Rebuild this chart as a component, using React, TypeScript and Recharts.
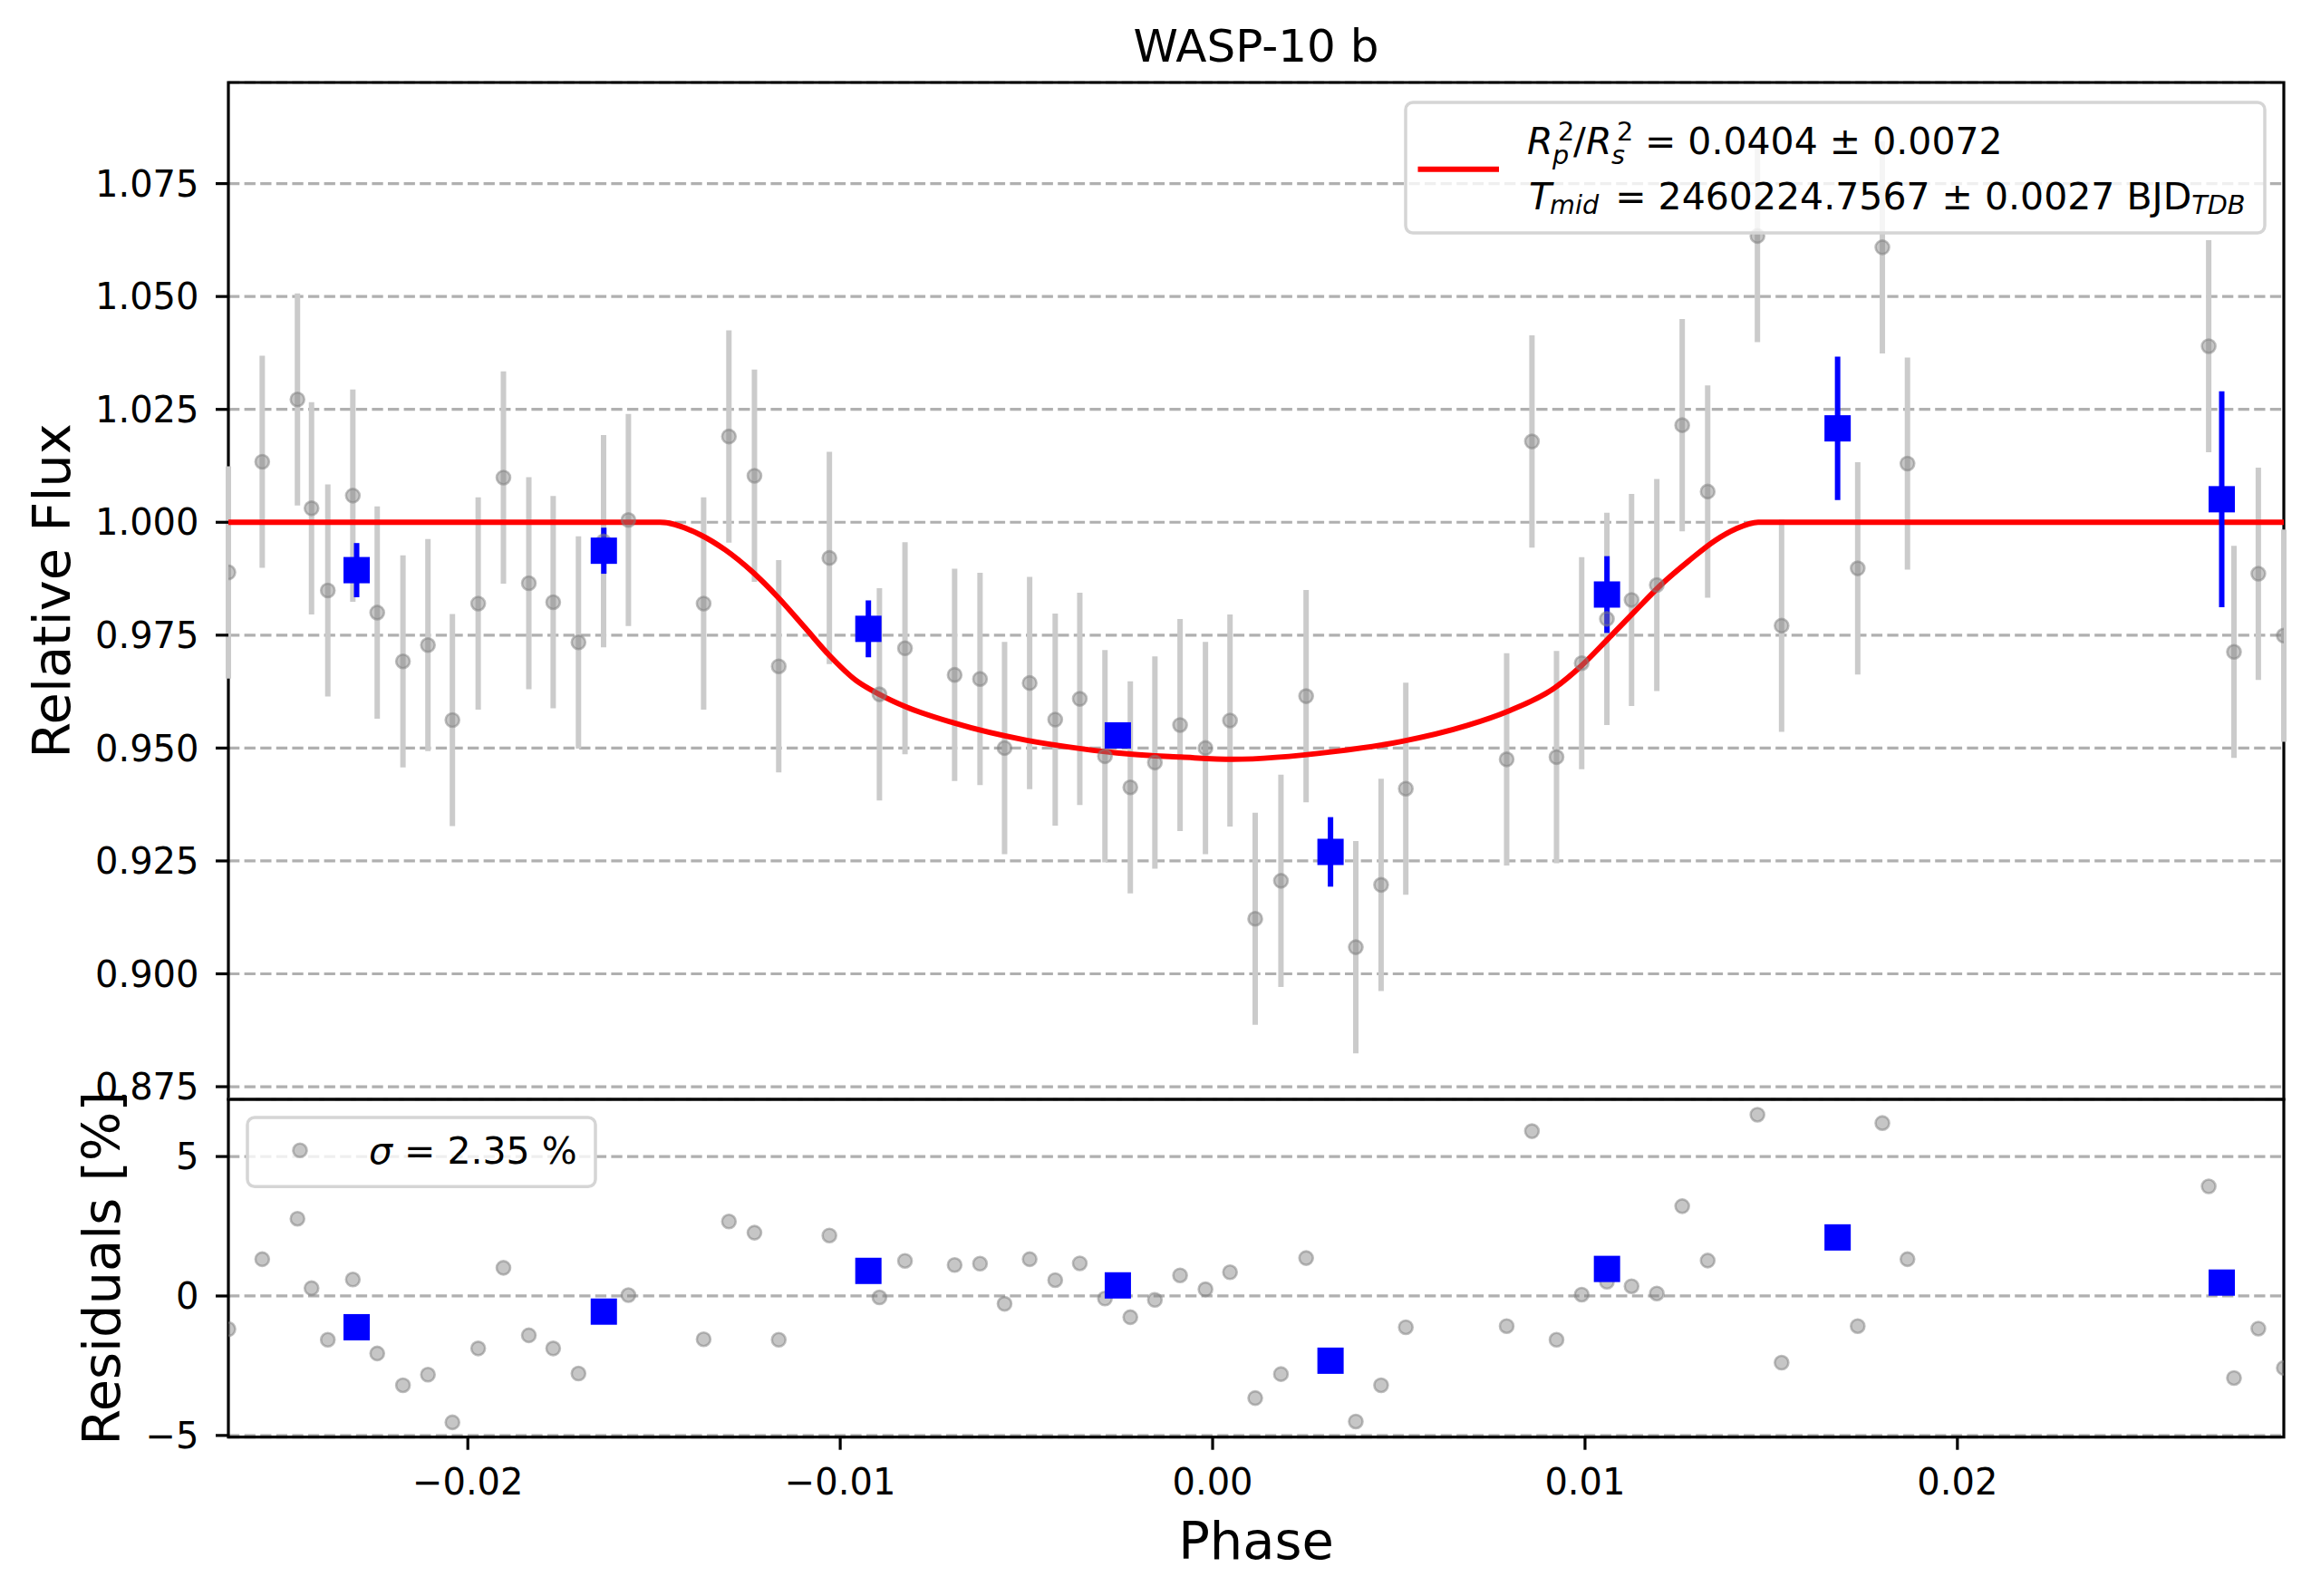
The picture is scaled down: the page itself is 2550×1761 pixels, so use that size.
import React from 'react';
import {
  ComposedChart,
  Scatter,
  Line,
  XAxis,
  YAxis,
  CartesianGrid,
  ErrorBar,
  ReferenceArea,
  Legend,
} from 'recharts';

const FONT = '"DejaVu Sans", "Liberation Sans", sans-serif';

// ---------- axis ranges & ticks ----------
const X_MIN = -0.02643;
const X_MAX = 0.028765;
const FLUX_MIN = 0.8722;
const FLUX_MAX = 1.0974;
const RES_MIN = -5.06;
const RES_MAX = 7.05;

const PHASE_TICKS = [-0.02, -0.01, 0, 0.01, 0.02];
const FLUX_TICKS = [0.875, 0.9, 0.925, 0.95, 0.975, 1.0, 1.025, 1.05, 1.075];
const RES_TICKS = [-5, 0, 5];

// ---------- unbinned data ----------
const PHASE = [
  -0.02643, -0.025521, -0.024575, -0.024197, -0.02376, -0.023088, -0.022433, -0.021742,
  -0.021071, -0.020414, -0.019722, -0.019044, -0.018362, -0.017708, -0.017029, -0.016355,
  -0.015688, -0.013668, -0.012989, -0.012303, -0.011651, -0.010291, -0.008947, -0.008261,
  -0.006928, -0.006246, -0.005587, -0.004913, -0.004227, -0.003567, -0.002891, -0.00221,
  -0.00155, -0.000874, -0.000192, 0.000467, 0.001144, 0.001835, 0.002511, 0.003845,
  0.004524, 0.005188, 0.007896, 0.008575, 0.009235, 0.009911, 0.010588, 0.01125,
  0.011928, 0.01261, 0.013294, 0.01463, 0.015279, 0.017323, 0.017985, 0.018659,
  0.026748, 0.027427, 0.028081, 0.028765,
];
const FLUX = [
  0.9889, 1.0134, 1.0272, 1.0031, 0.9849, 1.0059, 0.98, 0.9692,
  0.9728, 0.9562, 0.982, 1.0099, 0.9865, 0.9823, 0.9734, 0.9958,
  1.0005, 0.982, 1.019, 1.0103, 0.9681, 0.9921, 0.9619, 0.9721,
  0.9662, 0.9653, 0.95, 0.9644, 0.9563, 0.9609, 0.9482, 0.9413,
  0.9468, 0.9551, 0.95, 0.9561, 0.9122, 0.9206, 0.9615, 0.9059,
  0.9197, 0.941, 0.9475, 1.0179, 0.948, 0.9688, 0.9786, 0.9828,
  0.9861, 1.0215, 1.0068, 1.0634, 0.9771, 0.9898, 1.0609, 1.013,
  1.039, 0.9713, 0.9886, 0.9749,
];
const FLUX_ERR = [
  0.0235, 0.0235, 0.0235, 0.0235, 0.0235, 0.0235, 0.0235, 0.0235,
  0.0235, 0.0235, 0.0235, 0.0235, 0.0235, 0.0235, 0.0235, 0.0235,
  0.0235, 0.0235, 0.0235, 0.0235, 0.0235, 0.0235, 0.0235, 0.0235,
  0.0235, 0.0235, 0.0235, 0.0235, 0.0235, 0.0235, 0.0235, 0.0235,
  0.0235, 0.0235, 0.0235, 0.0235, 0.0235, 0.0235, 0.0235, 0.0235,
  0.0235, 0.0235, 0.0235, 0.0235, 0.0235, 0.0235, 0.0235, 0.0235,
  0.0235, 0.0235, 0.0235, 0.0235, 0.0235, 0.0235, 0.0235, 0.0235,
  0.0235, 0.0235, 0.0235, 0.0235,
];
const RESID = [
  -1.19, 1.32, 2.77, 0.28, -1.57, 0.59, -2.06, -3.2,
  -2.82, -4.53, -1.88, 1.01, -1.41, -1.88, -2.78, -0.42,
  0.03, -1.55, 2.67, 2.27, -1.57, 2.17, -0.05, 1.26,
  1.11, 1.16, -0.28, 1.32, 0.57, 1.17, -0.09, -0.76,
  -0.14, 0.74, 0.24, 0.85, -3.66, -2.8, 1.36, -4.5,
  -3.2, -1.12, -1.08, 5.91, -1.57, 0.05, 0.51, 0.35,
  0.09, 3.22, 1.27, 6.5, -2.39, -1.08, 6.2, 1.32,
  3.93, -2.94, -1.17, -2.58,
];

// ---------- binned data ----------
const BIN_PHASE = [-0.022986, -0.016348, -0.009244, -0.002545, 0.003166, 0.01059, 0.016783, 0.027098];
const BIN_FLUX = [0.9894, 0.9937, 0.9764, 0.9528, 0.927, 0.984, 1.0208, 1.0051];
const BIN_ERR = [0.006, 0.0051, 0.0063, 0.0022, 0.0077, 0.0085, 0.0159, 0.0239];
const BIN_RESID = [-1.12, -0.56, 0.9, 0.38, -2.32, 0.97, 2.1, 0.48];

// ---------- transit model ----------
const MODEL_PHASE = [
  -0.02643, -0.01484, -0.01375, -0.01309, -0.01237, -0.01165, -0.01093, -0.0103,
  -0.00958, -0.00895, -0.00823, -0.00697, -0.00499, -0.00357, -0.00229, -0.00085,
  0.00054, 0.00324, 0.00504, 0.00684, 0.00792, 0.00918, 0.0099, 0.01062,
  0.01134, 0.01206, 0.01278, 0.0135, 0.01404, 0.01465, 0.028765,
];
const MODEL_FLUX = [
  1.0, 1.0, 0.9972, 0.9939, 0.9891, 0.9832, 0.9765, 0.9706,
  0.965, 0.9619, 0.9591, 0.9556, 0.9517, 0.9499, 0.9487, 0.948,
  0.9475, 0.9492, 0.9514, 0.955, 0.9581, 0.9633, 0.9682, 0.9742,
  0.9803, 0.9863, 0.9914, 0.996, 0.9985, 1.0, 1.0,
];

// ---------- derived tables ----------
const greyData = PHASE.map((p, i) => ({ p, f: FLUX[i], e: FLUX_ERR[i] }));
const residData = PHASE.map((p, i) => ({ p, r: RESID[i] }));
const binData = BIN_PHASE.map((p, i) => ({ p, f: BIN_FLUX[i], e: BIN_ERR[i] }));
const binResidData = BIN_PHASE.map((p, i) => ({ p, r: BIN_RESID[i] }));
const modelData = MODEL_PHASE.map((p, i) => ({ p, v: MODEL_FLUX[i] }));

// ---------- formatting ----------
const MINUS = '\u2212';
const fmtPhase = (v: number) => (v < -1e-9 ? MINUS : '') + Math.abs(v).toFixed(2);
const fmtFlux = (v: number) => v.toFixed(3);
const fmtRes = (v: number) => (v < 0 ? MINUS + Math.abs(v) : String(v));

const TICK_STYLE = { fill: '#000', fontSize: 40, fontFamily: FONT };
const TICK_LINE = { stroke: '#000', strokeWidth: 3.2 };

const GreyDot = (props: any) => (
  <circle
    cx={props.cx}
    cy={props.cy}
    r={7.5}
    fill="#808080"
    fillOpacity={0.45}
    stroke="#808080"
    strokeOpacity={0.5}
    strokeWidth={2.6}
  />
);
const Nothing = () => <g />;
const BlueSquare = (props: any) => (
  <rect x={props.cx - 14.5} y={props.cy - 14.5} width={29} height={29} fill="#0000ff" />
);

const yLabel = (text: string, dx: number, fallbackX: number, fallbackY: number) => (props: any) => {
  const vb = props && props.viewBox;
  const x = vb && typeof vb.x === 'number' ? vb.x + dx : fallbackX;
  const y = vb && typeof vb.y === 'number' ? vb.y + vb.height / 2 : fallbackY;
  return (
    <text
      x={x}
      y={y}
      transform={`rotate(-90 ${x} ${y})`}
      textAnchor="middle"
      fontSize={57.5}
      fontFamily={FONT}
      fill="#000"
    >
      {text}
    </text>
  );
};

const xLabel = (props: any) => {
  const vb = props && props.viewBox;
  const x = vb && typeof vb.x === 'number' ? vb.x + vb.width / 2 : 1386;
  const y = vb && typeof vb.y === 'number' ? vb.y + 134.3 : 1720;
  return (
    <text x={x} y={y} textAnchor="middle" fontSize={57.5} fontFamily={FONT} fill="#000">
      Phase
    </text>
  );
};

const SUB = 28.7;

const MainLegend = () => (
  <svg width={952} height={148} style={{ display: 'block', overflow: 'visible' }}>
    <rect x={2} y={2} width={948} height={144} rx={8} ry={8} fill="#ffffff" fillOpacity={0.8} stroke="#d5d5d5" strokeWidth={3.5} />
    <line x1={15.5} x2={105} y1={75.7} y2={75.7} stroke="#ff0000" strokeWidth={6} />
    <text x={136} y={59} fontSize={41} fontFamily={FONT} fill="#000">
      <tspan fontStyle="italic">R</tspan>
      <tspan fontSize={SUB} dx={5.5} dy={-15}>2</tspan>
      <tspan fontSize={SUB} fontStyle="italic" dx={-24.2} dy={26}>p</tspan>
      <tspan dx={4.8} dy={-11}>/</tspan>
      <tspan fontStyle="italic" dx={0.2}>R</tspan>
      <tspan fontSize={SUB} dx={5.3} dy={-15}>2</tspan>
      <tspan fontSize={SUB} fontStyle="italic" dx={-24.2} dy={26}>s</tspan>
      <tspan dx={22} dy={-11}>= 0.0404 ± 0.0072</tspan>
    </text>
    <text x={138} y={119.7} fontSize={41} fontFamily={FONT} fill="#000">
      <tspan fontStyle="italic">T</tspan>
      <tspan fontSize={SUB} fontStyle="italic" dx={-2} dy={5.5}>mid</tspan>
      <tspan dx={18} dy={-5.5}>= 2460224.7567 ± 0.0027 BJD</tspan>
      <tspan fontSize={SUB} fontStyle="italic" dy={5.5}>TDB</tspan>
    </text>
  </svg>
);

const ResLegend = () => (
  <svg width={390} height={82} style={{ display: 'block', overflow: 'visible' }}>
    <rect x={2} y={2} width={384} height={76.3} rx={8} ry={8} fill="#ffffff" fillOpacity={0.8} stroke="#d5d5d5" strokeWidth={3.5} />
    <GreyDot cx={60} cy={38.3} />
    <text x={136} y={53} fontSize={41} fontFamily={FONT} fill="#000">
      <tspan fontStyle="italic">σ</tspan> = 2.35 %
    </text>
  </svg>
);

const W = 2550;
const H = 1761;

export default function App() {
  return (
    <div style={{ position: 'absolute', left: 0, top: 0, width: W, height: H, background: '#fff', overflow: 'hidden' }}>
      {/* title */}
      <svg width={W} height={110} style={{ position: 'absolute', left: 0, top: 0 }}>
        <text x={1386} y={68} textAnchor="middle" fontSize={50} fontFamily={FONT} fill="#000">
          WASP-10 b
        </text>
      </svg>

      {/* main light-curve panel */}
      <div style={{ position: 'absolute', left: 0, top: 0 }}>
        <ComposedChart width={W} height={H} margin={{ top: 91, right: 30, bottom: 548, left: 52 }}>
          <CartesianGrid
            horizontal
            vertical={false}
            stroke="#b0b0b0"
            strokeWidth={3.2}
            strokeDasharray="12.3 5.3"
          />
          <XAxis
            type="number"
            dataKey="p"
            domain={[X_MIN, X_MAX]}
            allowDataOverflow
            ticks={PHASE_TICKS}
            hide
          />
          <YAxis
            type="number"
            domain={[FLUX_MIN, FLUX_MAX]}
            allowDataOverflow
            ticks={FLUX_TICKS}
            interval={0}
            tickFormatter={fmtFlux}
            width={200}
            tick={TICK_STYLE}
            tickLine={TICK_LINE}
            tickSize={14}
            tickMargin={18.5}
            axisLine={false}
            label={yLabel('Relative Flux', 25, 77, 652)}
          />
          <Scatter data={greyData} dataKey="f" shape={Nothing} isAnimationActive={false}>
            <ErrorBar dataKey="e" direction="y" width={0} stroke="#cbcbcb" strokeWidth={6} isAnimationActive={false} />
          </Scatter>
          <Scatter data={greyData} dataKey="f" shape={GreyDot} isAnimationActive={false} />
          <Line
            data={modelData}
            dataKey="v"
            type="monotone"
            stroke="#ff0000"
            strokeWidth={6}
            dot={false}
            activeDot={false}
            isAnimationActive={false}
          />
          <Scatter data={binData} dataKey="f" shape={BlueSquare} isAnimationActive={false}>
            <ErrorBar dataKey="e" direction="y" width={0} stroke="#0000ff" strokeWidth={6} isAnimationActive={false} />
          </Scatter>
          <ReferenceArea
            x1={X_MIN}
            x2={X_MAX}
            y1={FLUX_MIN}
            y2={FLUX_MAX}
            fill="none"
            fillOpacity={0}
            stroke="#000"
            strokeWidth={3.2}
          />
          <Legend
            layout="horizontal"
            verticalAlign="middle"
            align="center"
            content={() => <MainLegend />}
            wrapperStyle={{ left: 1549, top: 111, width: 952, height: 148 }}
          />
        </ComposedChart>
      </div>

      {/* residual panel */}
      <div style={{ position: 'absolute', left: 0, top: 0 }}>
        <ComposedChart width={W} height={H} margin={{ top: 1213, right: 30, bottom: 25, left: 52 }}>
          <CartesianGrid
            horizontal
            vertical={false}
            stroke="#b0b0b0"
            strokeWidth={3.2}
            strokeDasharray="12.3 5.3"
          />
          <XAxis
            type="number"
            dataKey="p"
            domain={[X_MIN, X_MAX]}
            allowDataOverflow
            ticks={PHASE_TICKS}
            interval={0}
            tickFormatter={fmtPhase}
            height={150.3}
            tick={TICK_STYLE}
            tickLine={TICK_LINE}
            tickSize={14}
            tickMargin={20.5}
            axisLine={false}
            label={xLabel}
          />
          <YAxis
            type="number"
            domain={[RES_MIN, RES_MAX]}
            allowDataOverflow
            ticks={RES_TICKS}
            interval={0}
            tickFormatter={fmtRes}
            width={200}
            tick={TICK_STYLE}
            tickLine={TICK_LINE}
            tickSize={14}
            tickMargin={18.5}
            axisLine={false}
            label={yLabel('Residuals [%]', 80, 132, 1399)}
          />
          <Scatter data={residData} dataKey="r" shape={GreyDot} isAnimationActive={false} />
          <Scatter data={binResidData} dataKey="r" shape={BlueSquare} isAnimationActive={false} />
          <ReferenceArea
            x1={X_MIN}
            x2={X_MAX}
            y1={RES_MIN}
            y2={RES_MAX}
            fill="none"
            fillOpacity={0}
            stroke="#000"
            strokeWidth={3.2}
          />
          <Legend
            layout="horizontal"
            verticalAlign="middle"
            align="center"
            content={() => <ResLegend />}
            wrapperStyle={{ left: 271, top: 1231, width: 390, height: 82 }}
          />
        </ComposedChart>
      </div>
    </div>
  );
}
